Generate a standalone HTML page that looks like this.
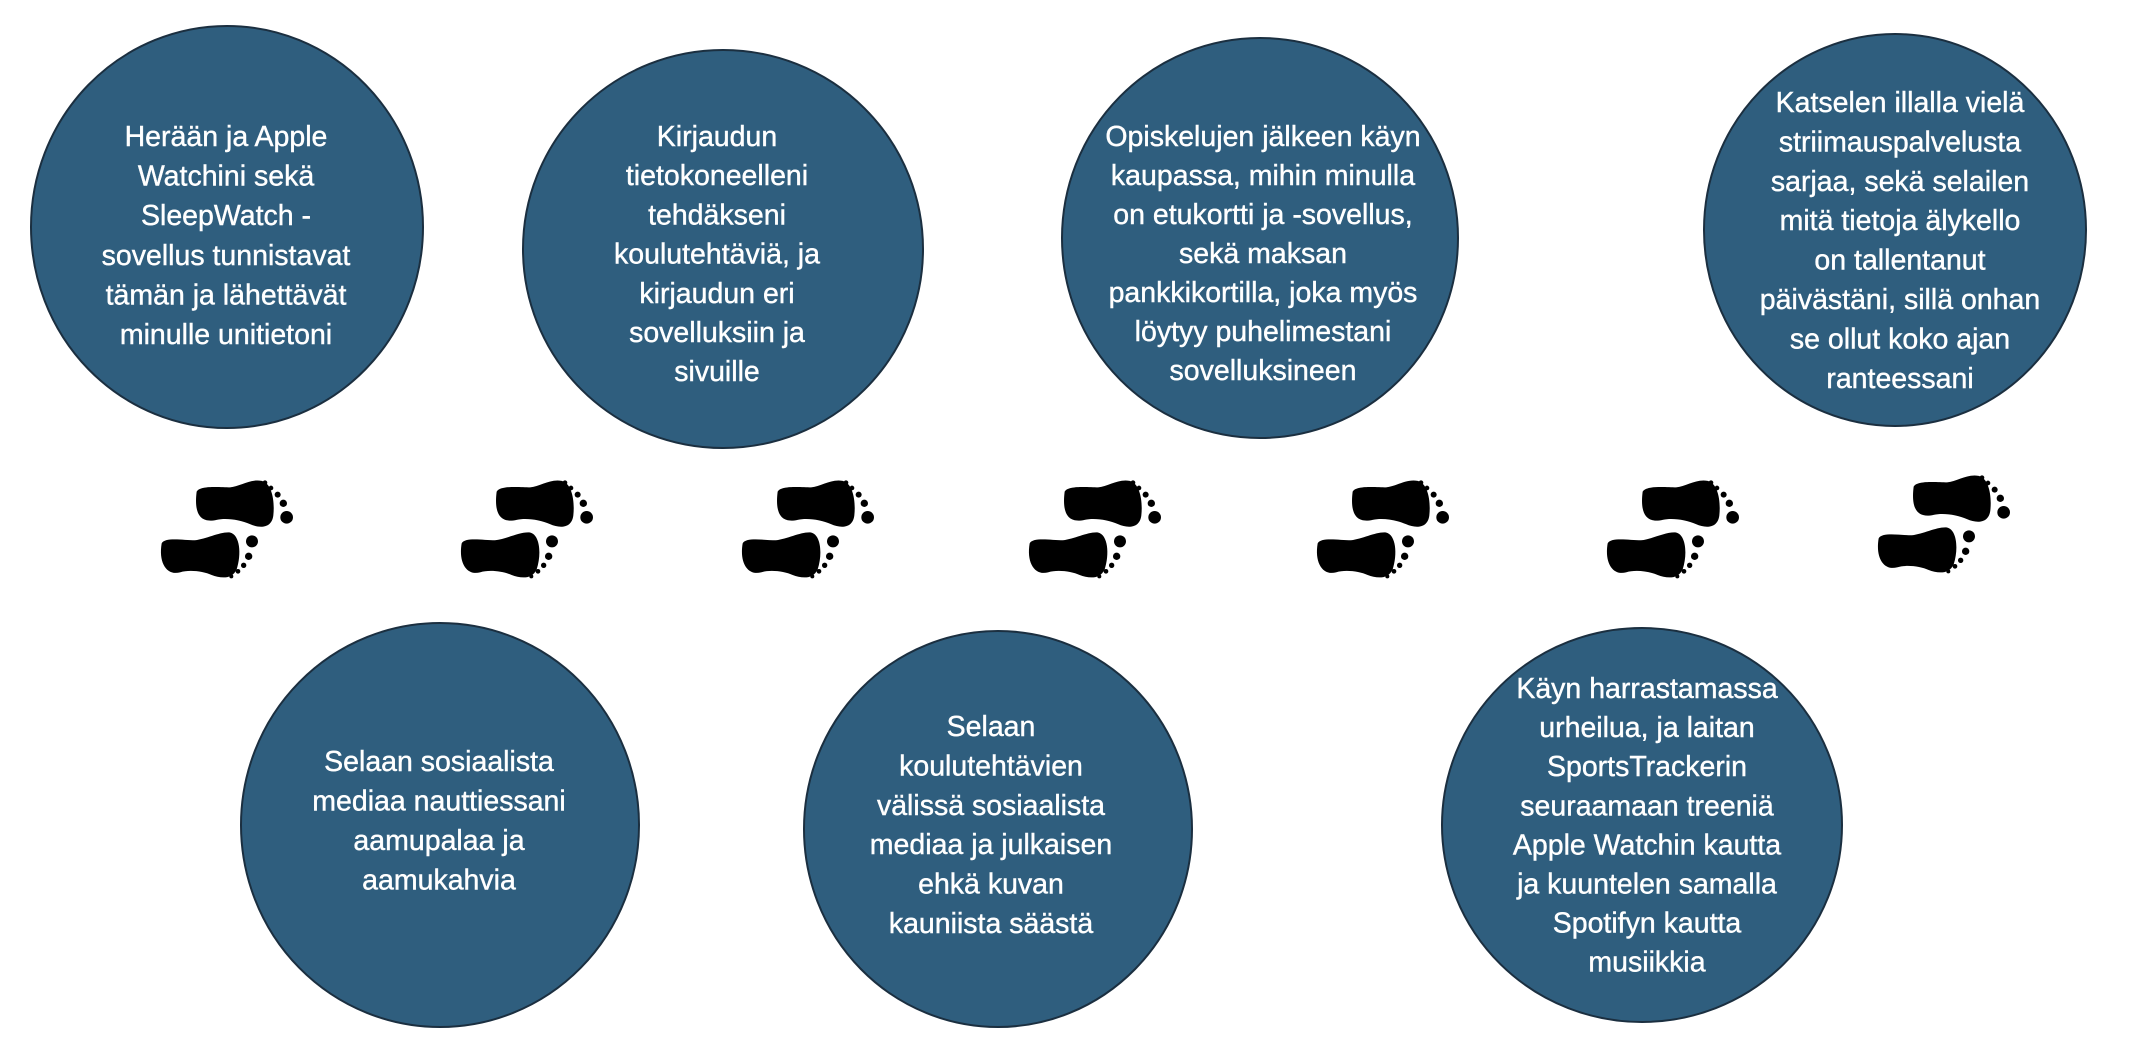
<!DOCTYPE html>
<html><head><meta charset="utf-8"><style>
html,body{margin:0;padding:0;background:#fff;}
svg{display:block;}
text{font-family:"Liberation Sans",sans-serif;font-size:28.5px;fill:#fff;stroke:#fff;stroke-width:0.4px;text-anchor:middle;}
</style></head><body>
<svg width="2130" height="1051" viewBox="0 0 2130 1051" xmlns="http://www.w3.org/2000/svg">
<defs>
<g id="pair">
 <g transform="translate(140,458) scale(0.3333)">
  <path transform="translate(0,140) scale(1,1.3) translate(0,-140)" d="M170,110 C180,95 240,100 270,100 C300,98 330,80 365,85 C395,90 405,130 400,165 C395,195 360,195 330,185 C300,175 260,170 230,175 C190,182 160,170 170,110 Z"/>
  <circle cx="375" cy="74" r="7"/><circle cx="393" cy="90" r="7"/><circle cx="413" cy="110" r="9"/><circle cx="430" cy="136" r="11"/><circle cx="440" cy="178" r="19"/>
  <path transform="translate(0,295) scale(1,1.3) translate(0,-295)" d="M65,265 C75,250 130,258 165,258 C200,255 240,238 270,240 C300,245 305,290 290,325 C275,350 240,345 215,338 C190,330 150,325 120,332 C80,340 55,310 65,265 Z"/>
  <circle cx="336" cy="250" r="18"/><circle cx="326" cy="295" r="11"/><circle cx="311" cy="322" r="8"/><circle cx="294" cy="340" r="7"/><circle cx="274" cy="355" r="6"/>
 </g>
</g>
</defs>
<g fill="#000">
 <use href="#pair"/>
 <use href="#pair" transform="translate(300,0)"/>
 <use href="#pair" transform="translate(581,0)"/>
 <use href="#pair" transform="translate(868,0)"/>
 <use href="#pair" transform="translate(1156,0)"/>
 <use href="#pair" transform="translate(1446,0)"/>
 <use href="#pair" transform="translate(1717,-5)"/>
</g>
<g fill="#2f5e7e" stroke="#1b2f40" stroke-width="2">
 <ellipse cx="227" cy="227" rx="196" ry="201"/>
 <ellipse cx="723" cy="249" rx="200" ry="199"/>
 <ellipse cx="1260" cy="238" rx="198" ry="200"/>
 <ellipse cx="1895" cy="230" rx="191" ry="196"/>
 <ellipse cx="440" cy="825" rx="199" ry="202"/>
 <ellipse cx="998" cy="829" rx="194" ry="198"/>
 <ellipse cx="1642" cy="825" rx="200" ry="197"/>
</g>
<text x="226" y="146">Herään ja Apple</text>
<text x="226" y="185.6">Watchini sekä</text>
<text x="226" y="225.2">SleepWatch -</text>
<text x="226" y="264.8">sovellus tunnistavat</text>
<text x="226" y="304.4">tämän ja lähettävät</text>
<text x="226" y="344">minulle unitietoni</text>

<text x="717" y="146">Kirjaudun</text>
<text x="717" y="185.2">tietokoneelleni</text>
<text x="717" y="224.4">tehdäkseni</text>
<text x="717" y="263.6">koulutehtäviä, ja</text>
<text x="717" y="302.8">kirjaudun eri</text>
<text x="717" y="342">sovelluksiin ja</text>
<text x="717" y="381.2">sivuille</text>

<text x="1263" y="146">Opiskelujen jälkeen käyn</text>
<text x="1263" y="185">kaupassa, mihin minulla</text>
<text x="1263" y="224">on etukortti ja -sovellus,</text>
<text x="1263" y="263">sekä maksan</text>
<text x="1263" y="302">pankkikortilla, joka myös</text>
<text x="1263" y="341">löytyy puhelimestani</text>
<text x="1263" y="380">sovelluksineen</text>

<text x="1900" y="112">Katselen illalla vielä</text>
<text x="1900" y="151.4">striimauspalvelusta</text>
<text x="1900" y="190.8">sarjaa, sekä selailen</text>
<text x="1900" y="230.2">mitä tietoja älykello</text>
<text x="1900" y="269.6">on tallentanut</text>
<text x="1900" y="309">päivästäni, sillä onhan</text>
<text x="1900" y="348.4">se ollut koko ajan</text>
<text x="1900" y="387.8">ranteessani</text>

<text x="439" y="771">Selaan sosiaalista</text>
<text x="439" y="810.5">mediaa nauttiessani</text>
<text x="439" y="850">aamupalaa ja</text>
<text x="439" y="889.5">aamukahvia</text>

<text x="991" y="736">Selaan</text>
<text x="991" y="775.4">koulutehtävien</text>
<text x="991" y="814.8">välissä sosiaalista</text>
<text x="991" y="854.2">mediaa ja julkaisen</text>
<text x="991" y="893.6">ehkä kuvan</text>
<text x="991" y="933">kauniista säästä</text>

<text x="1647" y="698">Käyn harrastamassa</text>
<text x="1647" y="737.1">urheilua, ja laitan</text>
<text x="1647" y="776.2">SportsTrackerin</text>
<text x="1647" y="815.3">seuraamaan treeniä</text>
<text x="1647" y="854.4">Apple Watchin kautta</text>
<text x="1647" y="893.5">ja kuuntelen samalla</text>
<text x="1647" y="932.6">Spotifyn kautta</text>
<text x="1647" y="971.7">musiikkia</text>
</svg>
</body></html>
